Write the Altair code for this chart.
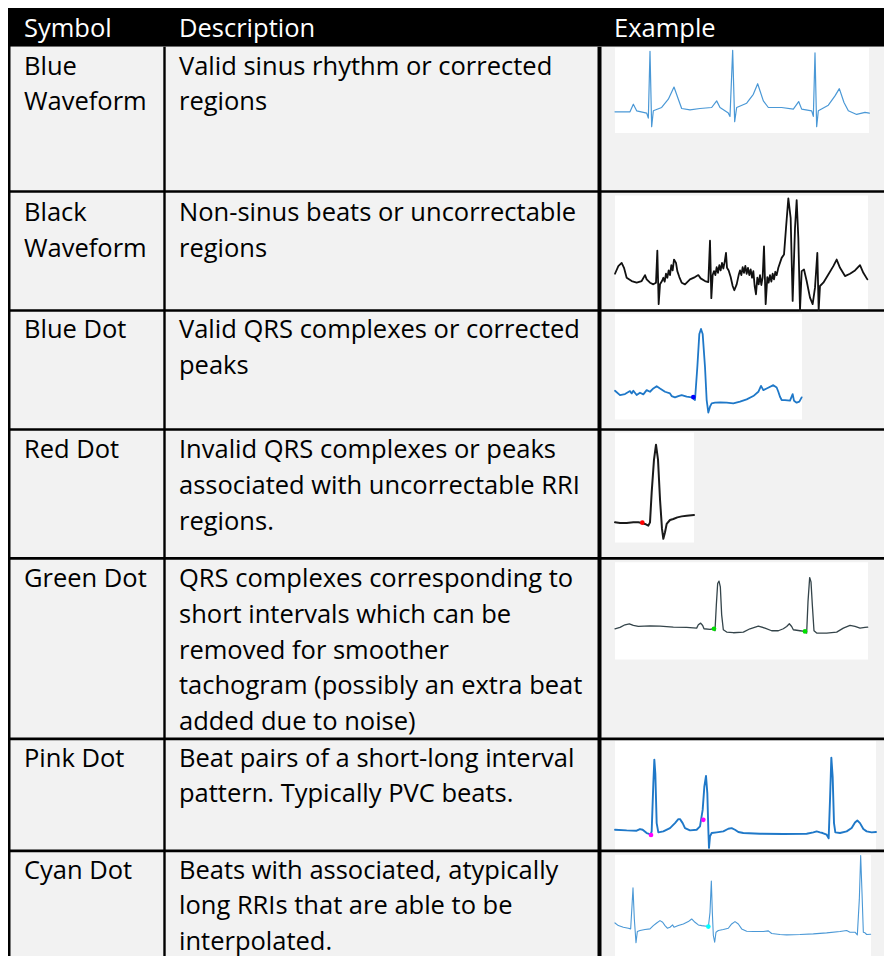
import altair as alt
import pandas as pd

# ---------------- data ----------------
headers = ["Symbol", "Description", "Example"]
symbol_lines = [
    ["Blue", "Waveform"],
    ["Black", "Waveform"],
    ["Blue Dot"],
    ["Red Dot"],
    ["Green Dot"],
    ["Pink Dot"],
    ["Cyan Dot"],
]
desc_lines = [
    ["Valid sinus rhythm or corrected", "regions"],
    ["Non-sinus beats or uncorrectable", "regions"],
    ["Valid QRS complexes or corrected", "peaks"],
    ["Invalid QRS complexes or peaks", "associated with uncorrectable RRI", "regions."],
    ["QRS complexes corresponding to", "short intervals which can be",
     "removed for smoother", "tachogram (possibly an extra beat", "added due to noise)"],
    ["Beat pairs of a short-long interval", "pattern. Typically PVC beats."],
    ["Beats with associated, atypically", "long RRIs that are able to be", "interpolated."],
]

# waveform samples (t, v) (sample units = 1/3 px)
wave_blue = [(45,218),(90,218),(100,195),(110,215),(140,222),(145,237),(150,35),(155,263),(160,215),
             (185,205),(205,180),(222,143),(235,180),(245,208),(270,212),(300,208),(335,205),(350,185),
             (360,205),(385,222),(390,232),(398,32),(404,248),(410,205),(440,192),(460,165),(473,133),
             (490,185),(505,205),(545,205),(580,210),(596,187),(605,210),(635,215),(640,232),(645,40),
             (650,263),(655,215),(685,198),(705,170),(718,148),(732,190),(745,215),(770,226),(795,220),(808,222)]
wave_black = [(45,258),(55,235),(65,225),(72,240),(80,270),(95,280),(110,285),(125,280),(135,262),(140,275),
              (150,285),(160,290),(168,285),(172,188),(176,350),(180,290),(186,280),(190,270),(194,282),
              (198,258),(202,270),(206,248),(210,262),(214,232),(218,248),(222,215),(228,225),(232,250),
              (238,268),(245,285),(255,290),(270,275),(285,268),(295,262),(302,272),(315,280),(325,283),
              (330,158),(334,332),(338,262),(342,250),(346,262),(350,238),(354,255),(358,232),(362,248),
              (366,225),(370,242),(374,222),(378,195),(381,240),(386,248),(392,268),(398,295),(403,308),
              (410,290),(416,262),(420,248),(424,262),(428,238),(432,255),(436,234),(440,258),(444,240),
              (448,262),(452,245),(456,270),(460,250),(464,295),(468,320),(472,270),(476,290),(480,262),
              (484,292),(488,268),(492,175),(497,350),(502,268),(506,285),(510,262),(514,282),(518,258),
              (522,275),(526,252),(530,262),(535,240),(545,210),(552,200),(558,120),(565,30),(572,90),
              (578,340),(585,120),(590,35),(595,150),(600,368),(605,250),(612,245),(620,280),(630,330),
              (638,350),(645,300),(652,195),(656,368),(660,295),(670,285),(685,260),(700,235),(710,215),
              (720,240),(735,265),(750,258),(765,248),(780,232),(790,255),(802,275)]
wave_bluedot = [(45,252),(60,265),(75,262),(90,253),(95,260),(100,252),(110,265),(120,258),(130,263),
                (140,250),(150,255),(160,245),(170,238),(180,245),(195,255),(210,260),(215,268),(225,272),
                (235,268),(245,265),(260,270),(275,272),(285,280),(292,180),(298,80),(303,65),(308,80),
                (315,180),(320,280),(325,318),(330,300),(335,290),(345,288),(360,287),(380,288),(400,290),
                (420,285),(440,278),(460,268),(475,255),(483,237),(490,250),(500,245),(520,235),(530,242),
                (535,255),(540,270),(545,280),(555,280),(570,282),(578,262),(582,282),(590,288),(598,285),(605,272)]
wave_reddot = [(45,290),(60,292),(80,292),(100,290),(115,290),(125,292),(135,295),(145,300),(150,290),
               (155,200),(162,100),(168,55),(174,100),(180,220),(186,310),(190,340),(195,320),(200,295),
               (210,283),(220,280),(232,275),(245,272),(260,270),(282,268)]
wave_greendot = [(45,222),(60,218),(75,210),(88,207),(100,212),(115,215),(150,213),(180,214),(220,217),
                 (260,218),(290,220),(295,210),(302,205),(308,212),(312,222),(330,224),(342,222),(345,228),
                 (349,150),(353,85),(357,78),(361,95),(365,180),(370,225),(380,232),(400,234),(430,232),
                 (450,222),(475,214),(495,220),(515,228),(535,228),(550,222),(560,215),(568,207),(575,215),
                 (580,225),(600,228),(615,230),(620,235),(624,140),(629,67),(633,80),(637,150),(642,228),
                 (650,235),(680,235),(710,232),(730,220),(750,212),(765,215),(780,220),(795,218),(803,217)]
wave_pinkdot = [(45,290),(80,292),(110,293),(120,288),(128,290),(140,300),(152,304),(155,295),(160,150),
                (163,78),(166,120),(170,270),(175,298),(190,295),(210,285),(225,270),(235,258),(240,258),
                (248,270),(255,285),(270,292),(290,290),(300,280),(308,230),(313,160),(318,127),(322,180),
                (325,290),(327,345),(330,310),(335,300),(350,298),(370,295),(385,287),(395,285),(405,290),
                (415,297),(430,300),(480,302),(550,303),(620,302),(640,298),(650,295),(660,298),(668,300),
                (680,305),(686,316),(690,200),(694,72),(698,130),(702,270),(706,298),(720,300),(740,295),
                (755,285),(765,268),(772,262),(780,270),(790,288),(800,295),(815,298),(828,297)]
wave_cyandot = [(45,572),(55,580),(70,585),(85,588),(92,590),(96,520),(99,466),(103,560),(108,632),
                (112,598),(120,595),(135,592),(150,590),(160,580),(170,572),(180,565),(188,570),(195,580),
                (202,588),(210,585),(218,578),(222,585),(235,580),(250,575),(265,568),(275,560),(285,570),
                (295,578),(305,580),(320,582),(325,585),(330,540),(334,445),(337,540),(340,610),(344,630),
                (348,600),(355,595),(370,592),(385,588),(395,575),(405,568),(415,575),(425,590),(440,597),
                (460,598),(490,598),(505,596),(515,604),(540,607),(560,608),(600,607),(640,605),(680,602),
                (720,598),(740,595),(750,600),(765,600),(772,608),(778,500),(782,368),(786,480),(790,600),
                (795,602),(800,607),(812,606)]

# marker dots (t, v) in the same sample units
dots_blue = [(280, 271)]
dots_red = [(127, 291)]
dots_green = [(342, 222), (615, 230)]
dots_pink = [(153, 306), (310, 260)]
dots_cyan = [(325, 583)]

# ---------------- layout (pixels) ----------------
X0, X1 = 8, 884
Y0, Y1 = 8, 964
PLOT_W, PLOT_H = 876, 948
HEAD_BOTTOM = 47
ROW_SEPS = [193, 313, 433, 563, 745, 858]
FIRST_LINE = [67, 215, 333, 454, 584, 765, 878]
LINE_GAP = 36
COL_X = [24, 179, 614]
FONT_SIZE = 25.5
BOXES = [(615, 869, 48, 134), (615, 868, 197, 313), (615, 802, 316, 423), (615, 694, 436, 547),
         (615, 868, 567, 665), (615, 876, 747, 858), (615, 871, 862, 964)]
WAVE_ORIGIN = [(600, 40), (600, 190), (600, 310), (600, 430), (600, 560), (600, 740), (600, 740)]
WAVES = [wave_blue, wave_black, wave_bluedot, wave_reddot, wave_greendot, wave_pinkdot, wave_cyandot]
WAVE_STYLE = [("#4a98d6", 1.2), ("#111111", 1.8), ("#1f78c8", 1.8), ("#1a1a1a", 2.0),
              ("#34444a", 1.3), ("#1f78c8", 1.9), ("#4a98d6", 1.1)]
DOTS = [(2, dots_blue, "#0000ff"), (3, dots_red, "#ff0000"), (4, dots_green, "#00e000"),
        (5, dots_pink, "#ff00ff"), (6, dots_cyan, "#00ffff")]

xs = alt.Scale(domain=[X0, X1], nice=False, zero=False)
ys = alt.Scale(domain=[Y0, Y1], nice=False, zero=False, reverse=True)

# rectangles
rects = [dict(x=8, x2=900, y=8, y2=HEAD_BOTTOM, c="#000000"),
         dict(x=8, x2=900, y=HEAD_BOTTOM, y2=970, c="#f2f2f2")]
for (a, b, c, d) in BOXES:
    rects.append(dict(x=a, x2=b, y=c, y2=d, c="#ffffff"))
rect_df = pd.DataFrame(rects)

# rules
rules = []
for s in ROW_SEPS:
    rules.append(dict(x=8, x2=900, y=s, y2=s, w=2.6))
rules.append(dict(x=9.2, x2=9.2, y=8, y2=970, w=2.6))
rules.append(dict(x=164.5, x2=164.5, y=HEAD_BOTTOM, y2=970, w=2.4))
rules.append(dict(x=599.5, x2=599.5, y=HEAD_BOTTOM, y2=970, w=4.0))
rule_df = pd.DataFrame(rules)

# texts
texts = []
for i, h in enumerate(headers):
    texts.append(dict(x=COL_X[i], y=29, t=h, c="#ffffff"))
for r in range(len(symbol_lines)):
    for k, line in enumerate(symbol_lines[r]):
        texts.append(dict(x=COL_X[0], y=FIRST_LINE[r] + k * LINE_GAP, t=line, c="#000000"))
    for k, line in enumerate(desc_lines[r]):
        texts.append(dict(x=COL_X[1], y=FIRST_LINE[r] + k * LINE_GAP, t=line, c="#000000"))
text_df = pd.DataFrame(texts)

# waves
wrows = []
for wi, wave in enumerate(WAVES):
    ox, oy = WAVE_ORIGIN[wi]
    col, sw = WAVE_STYLE[wi]
    for i, (t, v) in enumerate(wave):
        wrows.append(dict(wave=wi, i=i, x=ox + t / 3, y=oy + v / 3, c=col, w=sw))
wave_df = pd.DataFrame(wrows)

drows = []
for wi, pts, col in DOTS:
    ox, oy = WAVE_ORIGIN[wi]
    for (t, v) in pts:
        drows.append(dict(x=ox + t / 3, y=oy + v / 3, c=col))
dot_df = pd.DataFrame(drows)

X = lambda f="x": alt.X(f"{f}:Q", scale=xs, axis=None)
Y = lambda f="y": alt.Y(f"{f}:Q", scale=ys, axis=None)

rect_layer = alt.Chart(rect_df).mark_rect(clip=True).encode(
    x=X(), x2="x2:Q", y=Y(), y2="y2:Q", color=alt.Color("c:N", scale=None))

rule_layer = alt.Chart(rule_df).mark_rule(clip=True, color="#000000").encode(
    x=X(), x2="x2:Q", y=Y(), y2="y2:Q", strokeWidth=alt.StrokeWidth("w:Q", scale=None))

text_layer = alt.Chart(text_df).mark_text(
    align="left", baseline="middle", font="Open Sans", fontSize=FONT_SIZE).encode(
    x=X(), y=Y(), text="t:N", color=alt.Color("c:N", scale=None))

wave_layer = alt.Chart(wave_df).mark_line(strokeJoin="round", strokeCap="round").encode(
    x=X(), y=Y(), detail="wave:N", order="i:Q",
    color=alt.Color("c:N", scale=None), strokeWidth=alt.StrokeWidth("w:Q", scale=None))

dot_layer = alt.Chart(dot_df).mark_point(filled=True, shape="circle", size=22, opacity=1).encode(
    x=X(), y=Y(), color=alt.Color("c:N", scale=None))

chart = alt.layer(rect_layer, rule_layer, wave_layer, dot_layer, text_layer).properties(
    width=PLOT_W, height=PLOT_H, padding=0,
    autosize=alt.AutoSizeParams(type="none"),
    background="#ffffff",
).configure_view(stroke=None)

chart.save("out.html", embed_options={"renderer": "svg", "actions": False})
